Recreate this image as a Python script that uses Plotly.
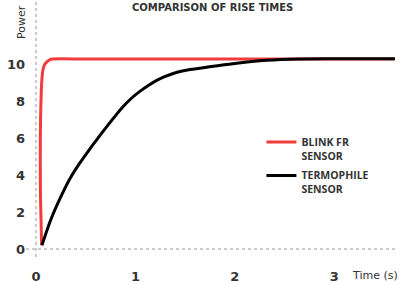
import plotly.graph_objects as go

# Data
time_red = [0.057, 0.045, 0.044, 0.047, 0.057, 0.07, 0.085, 0.107, 0.13, 0.16, 0.5, 1.5, 2.5, 3.6]
power_red = [0.2, 3.0, 6.0, 7.15, 8.95, 9.68, 9.95, 10.1, 10.2, 10.27, 10.27, 10.27, 10.27, 10.27]

time_black = [0.06, 0.15, 0.27, 0.35, 0.44, 0.543, 0.61, 0.71, 0.877, 0.96, 1.045, 1.13,
              1.21, 1.3, 1.38, 1.46, 1.55, 1.73, 1.98, 2.32, 2.65, 3.0, 3.61]
power_black = [0.2, 1.6, 3.05, 3.88, 4.64, 5.42, 5.9, 6.6, 7.7, 8.15, 8.52, 8.84,
               9.1, 9.33, 9.49, 9.61, 9.7, 9.84, 10.02, 10.2, 10.27, 10.28, 10.28]

x_ticks = [0, 1, 2, 3]
y_ticks = [0, 2, 4, 6, 8, 10]
series_names = ["BLINK FR<br>SENSOR", "TERMOPHILE<br>SENSOR"]
title_text = "COMPARISON OF RISE TIMES"
x_title = "Time (s)"
y_title = "Power"

FONT = "DejaVu Sans"
TXT = "#333333"

fig = go.Figure()
fig.add_trace(go.Scatter(x=time_red, y=power_red, mode="lines", name=series_names[0],
                         line=dict(color="#f23b3b", width=3, shape="spline", smoothing=0.6),
                         legendgroup="a"))
fig.add_trace(go.Scatter(x=time_black, y=power_black, mode="lines", name=series_names[1],
                         line=dict(color="#000000", width=3, shape="spline", smoothing=0.7),
                         legendgroup="b"))

# dotted axis lines
fig.add_shape(type="line", xref="x", yref="paper", x0=0, x1=0, y0=0, y1=1,
              line=dict(color="#999999", width=1, dash="dot"), layer="below")
fig.add_shape(type="line", xref="paper", yref="y", x0=0, x1=1, y0=0, y1=0,
              line=dict(color="#999999", width=1, dash="dot"), layer="below")

fig.update_layout(
    width=400, height=284,
    margin=dict(l=26, r=5, t=0, b=27),
    paper_bgcolor="white", plot_bgcolor="white",
    showlegend=True,
    legend=dict(x=0.638, y=0.499, xanchor="left", yanchor="top",
                font=dict(family="Open Sans", size=10.5, color=TXT, weight="bold"),
                valign="top", tracegroupgap=3, bgcolor="rgba(0,0,0,0)"),
    xaxis=dict(range=[-0.1, 3.61], tickvals=x_ticks, showgrid=False, zeroline=False,
               showline=False, ticks="", ticklabelstandoff=10,
               tickfont=dict(family=FONT, size=13, color=TXT, weight="bold")),
    yaxis=dict(range=[-0.43, 13.46], tickvals=y_ticks, showgrid=False, zeroline=False,
               showline=False, ticks="",
               tickfont=dict(family=FONT, size=13, color=TXT, weight="bold")),
    annotations=[
        dict(text=title_text, xref="paper", yref="paper", x=(212 - 26) / 369, y=1 - 7 / 257,
             xanchor="center", yanchor="middle", showarrow=False,
             font=dict(family=FONT, size=10, color=TXT, weight="bold")),
        dict(text=y_title, xref="paper", yref="paper", x=(21 - 26) / 369, y=1 - 22 / 257,
             xanchor="center", yanchor="middle", showarrow=False, textangle=-90,
             font=dict(family=FONT, size=11, color=TXT)),
        dict(text=x_title, xref="paper", yref="paper", x=(375 - 26) / 369, y=-(275 - 257) / 257,
             xanchor="center", yanchor="middle", showarrow=False,
             font=dict(family=FONT, size=11, color=TXT)),
    ],
)

fig.write_html("out.html")
